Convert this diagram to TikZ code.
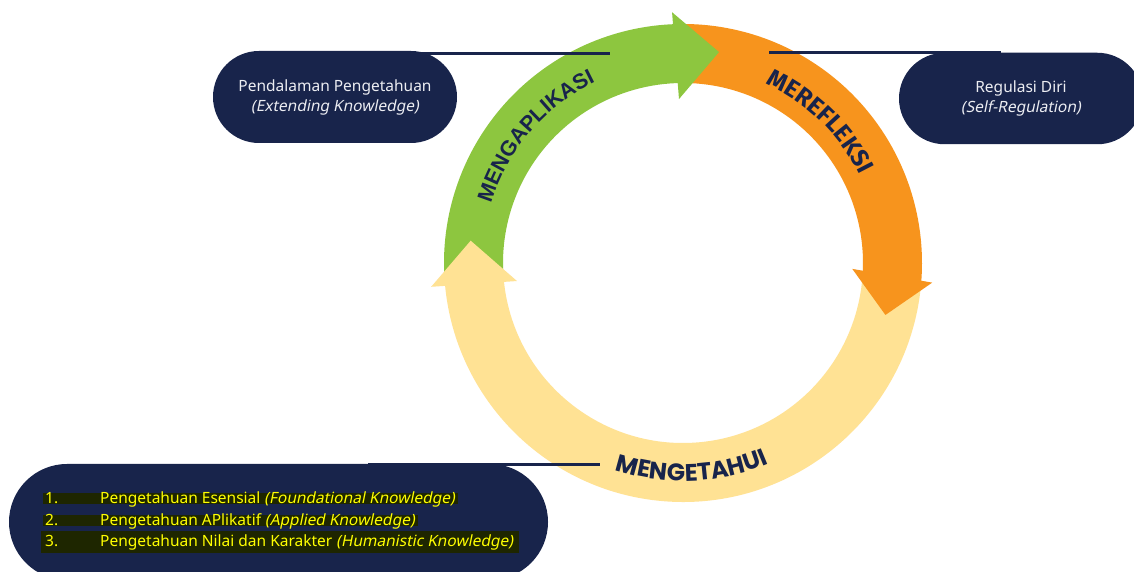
\documentclass[tikz,border=0pt]{standalone}
\usepackage{fontspec}
\setmainfont{Noto Sans}
\newfontfamily\boxfont{Noto Sans}
\newfontfamily\slfont{Noto Sans}[FakeSlant=0.2]
\newfontfamily\arialfont{Liberation Sans}
\newfontfamily\popfont{Poppins}
\newfontfamily\firafont{Fira Sans}
\usetikzlibrary{decorations.text}
\definecolor{navy}{RGB}{24,36,75}
\definecolor{cgreen}{RGB}{141,198,63}
\definecolor{corange}{RGB}{247,148,29}
\definecolor{cyellow}{RGB}{255,226,148}
\definecolor{hlcol}{RGB}{30,38,0}
\definecolor{yeltxt}{RGB}{255,255,0}
\definecolor{boxtxt}{RGB}{236,237,242}
\begin{document}
\begin{tikzpicture}[x=1pt,y=1pt,
  pill/.style={rectangle, fill=navy, inner sep=0pt, align=center, text=boxtxt,
    font=\boxfont\fontsize{15.5}{20}\selectfont},
  conn/.style={draw=navy, line width=3pt},
  listtxt/.style={anchor=base west, inner sep=0pt, text=yeltxt,
    font=\boxfont\fontsize{15.5}{17}\selectfont},
  ringtext/.style={decorate, decoration={text along path, text align=center, text color=navy}}
]
\useasboundingbox (0,0) rectangle (1134,572);
\fill[white] (0,0) rectangle (1134,572);

% boxes
\node[pill, minimum width=244pt, minimum height=92pt, rounded corners=46pt] (tl) at (335,475)
  {Pendalaman Pengetahuan\\{\slfont(Extending Knowledge)}};
\node[pill, minimum width=244pt, minimum height=91.5pt, rounded corners=45.75pt] (tr) at (1021,473.5)
  {Regulasi Diri\\{\slfont(Self-Regulation)}};
\node[pill, minimum width=539pt, minimum height=116pt, rounded corners=58pt] (bl) at (278.5,50) {};

% highlights
\fill[hlcol] (43,68) rectangle (458,79);
\fill[hlcol] (43,46) rectangle (418,57);
\fill[hlcol] (41,19) rectangle (519,41);

\node[listtxt] (n1) at (45,68) {1.};
\node[listtxt] (t1) at (100,68) {Pengetahuan Esensial {\slfont(Foundational Knowledge)}};
\node[listtxt] (n2) at (45,46) {2.};
\node[listtxt] (t2) at (100,46) {Pengetahuan APlikatif {\slfont(Applied Knowledge)}};
\node[listtxt] (n3) at (45,25) {3.};
\node[listtxt] (t3) at (100,25) {Pengetahuan Nilai dan Karakter {\slfont(Humanistic Knowledge)}};

% ring
\begin{scope}[shift={(683,309)}]
  \fill[cgreen] (184:239pt) arc[start angle=184,end angle=90.5,radius=239pt]
     -- (90.5:180pt) arc[start angle=90.5,end angle=184,radius=180pt] -- cycle;
  \fill[corange] (90:239pt) arc[start angle=90,end angle=-4.5,radius=239pt]
     -- (-4.5:180pt) arc[start angle=-4.5,end angle=90,radius=180pt] -- cycle;
  \fill[cyellow] (-5:239pt) arc[start angle=-5,end angle=-175,radius=239pt]
     -- (-175:180pt) arc[start angle=-175,end angle=-5,radius=180pt] -- cycle;
  % heads
  \fill[cgreen] (92.5:251pt) -- (80.3:214pt) -- (91.4:164pt) -- cycle;
  \fill[cyellow] (185.4:253pt) -- (174:213.5pt) -- (186.2:167pt) -- cycle;
  \fill[corange] (-4.5:250pt) -- (-14.4:209pt) -- (-2:169.4pt) -- cycle;
  % texts
  \path[ringtext, decoration={text={|\arialfont\bfseries\fontsize{21.5}{21.5}\selectfont|MENGAPLIKASI}}]
     (171.3:201pt) arc[start angle=171.3,end angle=107.3,radius=201pt];
  \path[ringtext, decoration={text={|\firafont\bfseries\fontsize{24.5}{24.5}\selectfont|MEREFLEKSI}}]
     (80:197.5pt) arc[start angle=80,end angle=11.7,radius=197.5pt];
  \path[ringtext, decoration={text={|\popfont\bfseries\fontsize{24}{24}\selectfont|MENGETAHUI}}]
     (232.5:218pt) arc[start angle=232.5,end angle=312.5,radius=218pt];
\end{scope}

% connectors
\coordinate (l1e) at (610,518.7);
\draw[conn] ([xshift=78pt]tl.north |- l1e) -- (l1e);
\coordinate (l2s) at (769,519);
\draw[conn] (l2s) -- ([xshift=-20pt]tr.north |- l2s);
\coordinate (l3e) at (600,107);
\draw[conn] ([xshift=89.5pt]bl.north |- l3e) -- (l3e);
\end{tikzpicture}
\end{document}
